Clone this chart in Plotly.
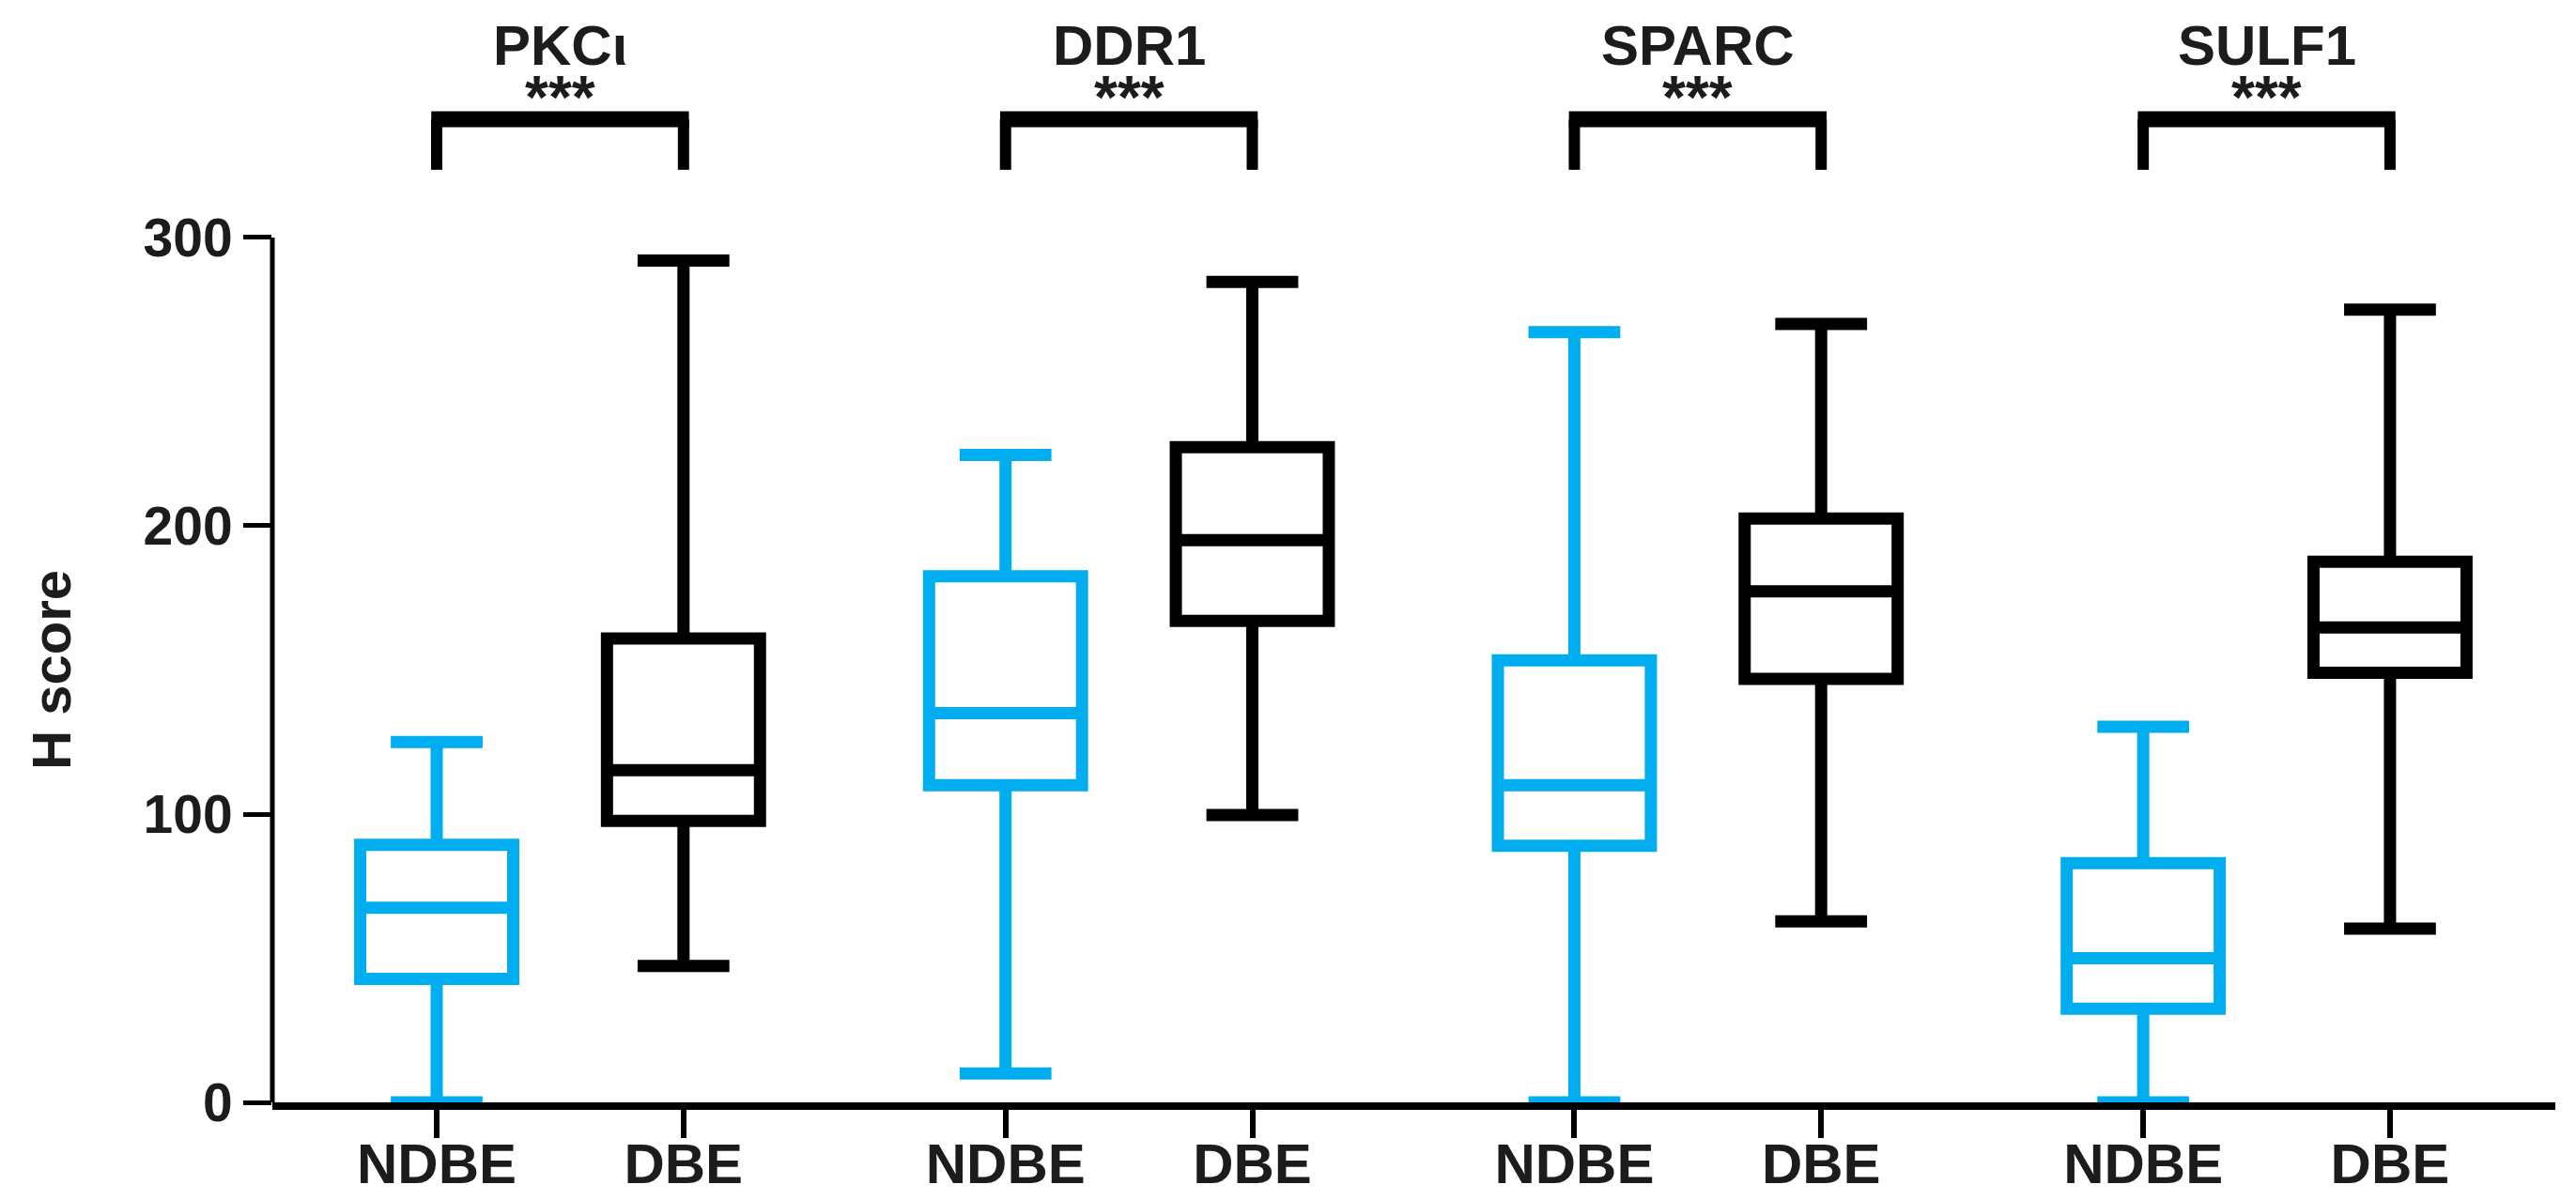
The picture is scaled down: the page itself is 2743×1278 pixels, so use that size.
import plotly.graph_objects as go

# data (H score box stats: whisker low, Q1, median, Q3, whisker high)
genes = ["PKCι", "DDR1", "SPARC", "SULF1"]
groups = ["NDBE", "DBE"]

ndbe_low = [0, 10, 0, 0]
ndbe_q1 = [42.8, 110, 89, 32.5]
ndbe_med = [67.5, 135, 110, 50]
ndbe_q3 = [89.3, 182.5, 153.3, 83]
ndbe_high = [125, 224.6, 267.2, 130.3]

dbe_low = [47.3, 99.7, 62.8, 60.3]
dbe_q1 = [97.6, 167, 146.9, 149]
dbe_med = [115.2, 195, 177.3, 164.7]
dbe_q3 = [160.9, 227.3, 202.5, 187.5]
dbe_high = [292, 284.6, 270, 275]

significance = ["***", "***", "***", "***"]
y_ticks = [0, 100, 200, 300]

# layout constants
GROUP_STEP = 2.305
CYAN = "#00AEEF"
BLACK = "#000000"
TEXT = "#1c1c1c"
FONT = "Liberation Sans, Arial, sans-serif"
LW = 13

fig = go.Figure()

series = [
    (ndbe_low, ndbe_q1, ndbe_med, ndbe_q3, ndbe_high, CYAN),
    (dbe_low, dbe_q1, dbe_med, dbe_q3, dbe_high, BLACK),
]

tickvals, ticktext = [], []
for gi, gene in enumerate(genes):
    for k, (lo, q1, med, q3, hi, col) in enumerate(series):
        xpos = gi * GROUP_STEP + k
        fig.add_trace(go.Box(
            x=[xpos], lowerfence=[lo[gi]], q1=[q1[gi]], median=[med[gi]],
            q3=[q3[gi]], upperfence=[hi[gi]],
            width=0.62, whiskerwidth=0.6,
            line=dict(color=col, width=LW),
            fillcolor="rgba(255,255,255,0)",
            boxpoints=False, showlegend=False, hoverinfo="skip",
        ))
        tickvals.append(xpos)
        ticktext.append(groups[k])

    # significance bracket above each pair
    x0 = gi * GROUP_STEP
    x1 = x0 + 1
    fig.add_shape(type="line", xref="x", yref="y", x0=x0, x1=x0, y0=341, y1=323.5,
                  line=dict(color=BLACK, width=12))
    fig.add_shape(type="line", xref="x", yref="y", x0=x1, x1=x1, y0=341, y1=323.5,
                  line=dict(color=BLACK, width=12))
    fig.add_shape(type="line", xref="x", yref="y", x0=x0 - 0.022, x1=x1 + 0.022, y0=341, y1=341,
                  line=dict(color=BLACK, width=17))
    fig.add_annotation(x=(x0 + x1) / 2, y=366.5, xref="x", yref="y", text=gene,
                       showarrow=False, yanchor="middle",
                       font=dict(family=FONT, size=60, color=TEXT, weight="bold"))
    fig.add_annotation(x=(x0 + x1) / 2, y=348.5, xref="x", yref="y", text=significance[gi],
                       showarrow=False, yanchor="middle",
                       font=dict(family=FONT, size=64, color=TEXT, weight="bold"))

# y axis line only up to 300
fig.add_shape(type="line", xref="paper", yref="y", x0=0, x1=0, y0=0, y1=300,
              line=dict(color=BLACK, width=5), layer="below")

fig.add_annotation(x=-0.097, y=150, xref="paper", yref="y", text="H score",
                   textangle=-90, showarrow=False, xanchor="center", yanchor="middle",
                   font=dict(family=FONT, size=58, color=TEXT, weight="bold"))

fig.update_layout(
    width=2743, height=1278,
    margin=dict(l=282, r=30, t=0, b=112, autoexpand=False),
    plot_bgcolor="white", paper_bgcolor="white",
    xaxis=dict(
        range=[-0.666, 8.585], tickvals=tickvals, ticktext=ticktext,
        showline=True, linecolor=BLACK, linewidth=8,
        ticks="outside", ticklen=30, tickwidth=6, tickcolor=BLACK,
        showgrid=False, zeroline=False, layer="below traces", automargin=False,
        ticklabelstandoff=-24,
        tickfont=dict(family=FONT, size=60, color=TEXT, weight="bold"),
    ),
    yaxis=dict(
        range=[0, 379.8], tickvals=y_ticks,
        showline=False, ticks="outside", ticklen=30, tickwidth=5, tickcolor=BLACK,
        showgrid=False, zeroline=False, automargin=False,
        tickfont=dict(family=FONT, size=57, color=TEXT, weight="bold"),
    ),
)

fig.write_html("out.html")
